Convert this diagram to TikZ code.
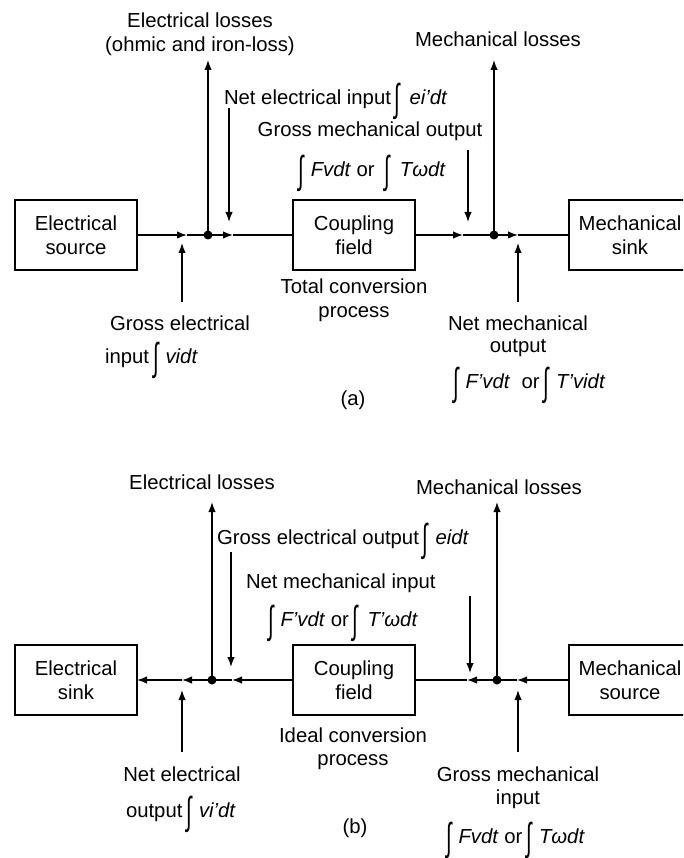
\documentclass[tikz,border=0pt]{standalone}
\usepackage{graphicx}
\usepackage{fontspec}
\setmainfont{Liberation Sans}
\usetikzlibrary{arrows.meta}
\newcommand{\Intg}{\hspace{4pt}\raisebox{-7pt}{\scalebox{1}[1.9]{∫}}\hspace{7pt}}
\begin{document}
\begin{tikzpicture}[x=1pt,y=-1pt,
  every node/.style={font=\fontsize{20.3}{24}\selectfont, inner sep=0pt, outer sep=0pt},
  blk/.style={draw, line width=1.4pt, minimum width=122pt, minimum height=70pt, align=center},
  ln/.style={line width=1.4pt},
  arr/.style={ln, -{Latex[length=10pt,width=7.5pt]}},
  jdot/.style={circle, fill, minimum size=9pt, inner sep=0pt},
  lc/.style={anchor=base},
  lw/.style={anchor=base west}]
\useasboundingbox (0,0) rectangle (683,858);
\clip (0,0) rectangle (683,858);

% ---------------- (a) ----------------
\node[blk] (es) at (76,235) {Electrical\\source};
\node[blk] (cf) at (354,235) {Coupling\\field};
\node[blk] (mk) at (630,235) {Mechanical\\sink};
\node[jdot] (j1) at (208,235) {};
\node[jdot] (j2) at (494,235) {};
\coordinate (a1) at (187,235);
\coordinate (a2) at (233,235);
\coordinate (a3) at (463,235);
\coordinate (a4) at (518,235);
\draw[arr] (es.east) -- (a1);
\draw[arr] (a1) -- (a2);
\draw[ln] (a2) -- (cf.west);
\draw[arr] (cf.east) -- (a3);
\draw[arr] (a3) -- (a4);
\draw[ln] (a4) -- (mk.west);

\coordinate (elt) at (208,60);
\coordinate (mlt) at (494,60);
\coordinate (nis) at (229,108);
\coordinate (nit) at (229,222);
\coordinate (gos) at (468,150);
\coordinate (got) at (468,222);
\coordinate (gis) at (182,302);
\coordinate (git) at (182,243);
\coordinate (nos) at (518,302);
\coordinate (not) at (518,243);
\draw[arr] (j1.center) -- (elt);
\draw[arr] (j2.center) -- (mlt);
\draw[arr] (nis) -- (nit);
\draw[arr] (gos) -- (got);
\draw[arr] (gis) -- (git);
\draw[arr] (nos) -- (not);

\node[lc] (el1) at (200,28) {Electrical losses};
\node[lc] (el2) at (200,52) {(ohmic and iron-loss)};
\node[lc] (ml) at (498,47) {Mechanical losses};
\node[lw] (nei) at (224,105) {Net electrical input\Intg\hspace{2pt}\textit{ei’dt}};
\node[lc] (gmo1) at (370,137) {Gross mechanical output};
\node[lc] (gmo2) at (370,177) {\Intg\textit{Fvdt} or \Intg\hspace{3pt}\textit{Tωdt}};
\node[lc] (tc1) at (354,294) {Total conversion};
\node[lc] (tc2) at (354,317) {process};
\node[lc] (ge1) at (180,330) {Gross electrical};
\node[lw] (ge2) at (105,363) {input\Intg\textit{vidt}};
\node[lc] (nm1) at (518,330) {Net mechanical};
\node[lc] (nm2) at (518,352) {output};
\node[lw] (nm3) at (449,388) {\Intg\textit{F’vdt}\ \ or\Intg\textit{T’vidt}};
\node[lc] (capa) at (353,405) {(a)};

% ---------------- (b) ----------------
\node[blk] (esk) at (76,680) {Electrical\\sink};
\node[blk] (cf2) at (354,680) {Coupling\\field};
\node[blk] (msr) at (630,680) {Mechanical\\source};
\node[jdot] (j3) at (212,680) {};
\node[jdot] (j4) at (497,680) {};
\coordinate (b1) at (182,680);
\coordinate (b2) at (232,680);
\coordinate (b3) at (467,680);
\coordinate (b4) at (517,680);
\draw[arr] (cf2.west) -- (b2);
\draw[arr] (b2) -- (b1);
\draw[arr] (b1) -- (esk.east);
\draw[arr] (msr.west) -- (b4);
\draw[arr] (b4) -- (b3);
\draw[ln] (b3) -- (cf2.east);

\coordinate (elt2) at (212,502);
\coordinate (mlt2) at (497,502);
\coordinate (gds) at (231,552);
\coordinate (gdt) at (231,667);
\coordinate (nds) at (470,596);
\coordinate (ndt) at (470,673);
\coordinate (nus) at (182,752);
\coordinate (nut) at (182,690);
\coordinate (gus) at (518,752);
\coordinate (gut) at (518,690);
\draw[arr] (j3.center) -- (elt2);
\draw[arr] (j4.center) -- (mlt2);
\draw[arr] (gds) -- (gdt);
\draw[arr] (nds) -- (ndt);
\draw[arr] (nus) -- (nut);
\draw[arr] (gus) -- (gut);

\node[lc] (elb) at (202,489) {Electrical losses};
\node[lc] (mlb) at (499,494) {Mechanical losses};
\node[lw] (geo) at (217,544) {Gross electrical output\Intg\textit{eidt}};
\node[lw] (nmi1) at (246,588) {Net mechanical input};
\node[lw] (nmi2) at (264,626) {\Intg\textit{F’vdt} or\Intg\hspace{2pt}\textit{T’ωdt}};
\node[lc] (ic1) at (353,742) {Ideal conversion};
\node[lc] (ic2) at (353,765) {process};
\node[lc] (ne1) at (182,781) {Net electrical};
\node[lw] (ne2) at (126,817) {output\Intg\textit{vi’dt}};
\node[lc] (gm1) at (518,781) {Gross mechanical};
\node[lc] (gm2) at (518,804) {input};
\node[lw] (gm3) at (442,843) {\Intg\textit{Fvdt} or\Intg\textit{Tωdt}};
\node[lc] (capb) at (355,833) {(b)};
\end{tikzpicture}
\end{document}
